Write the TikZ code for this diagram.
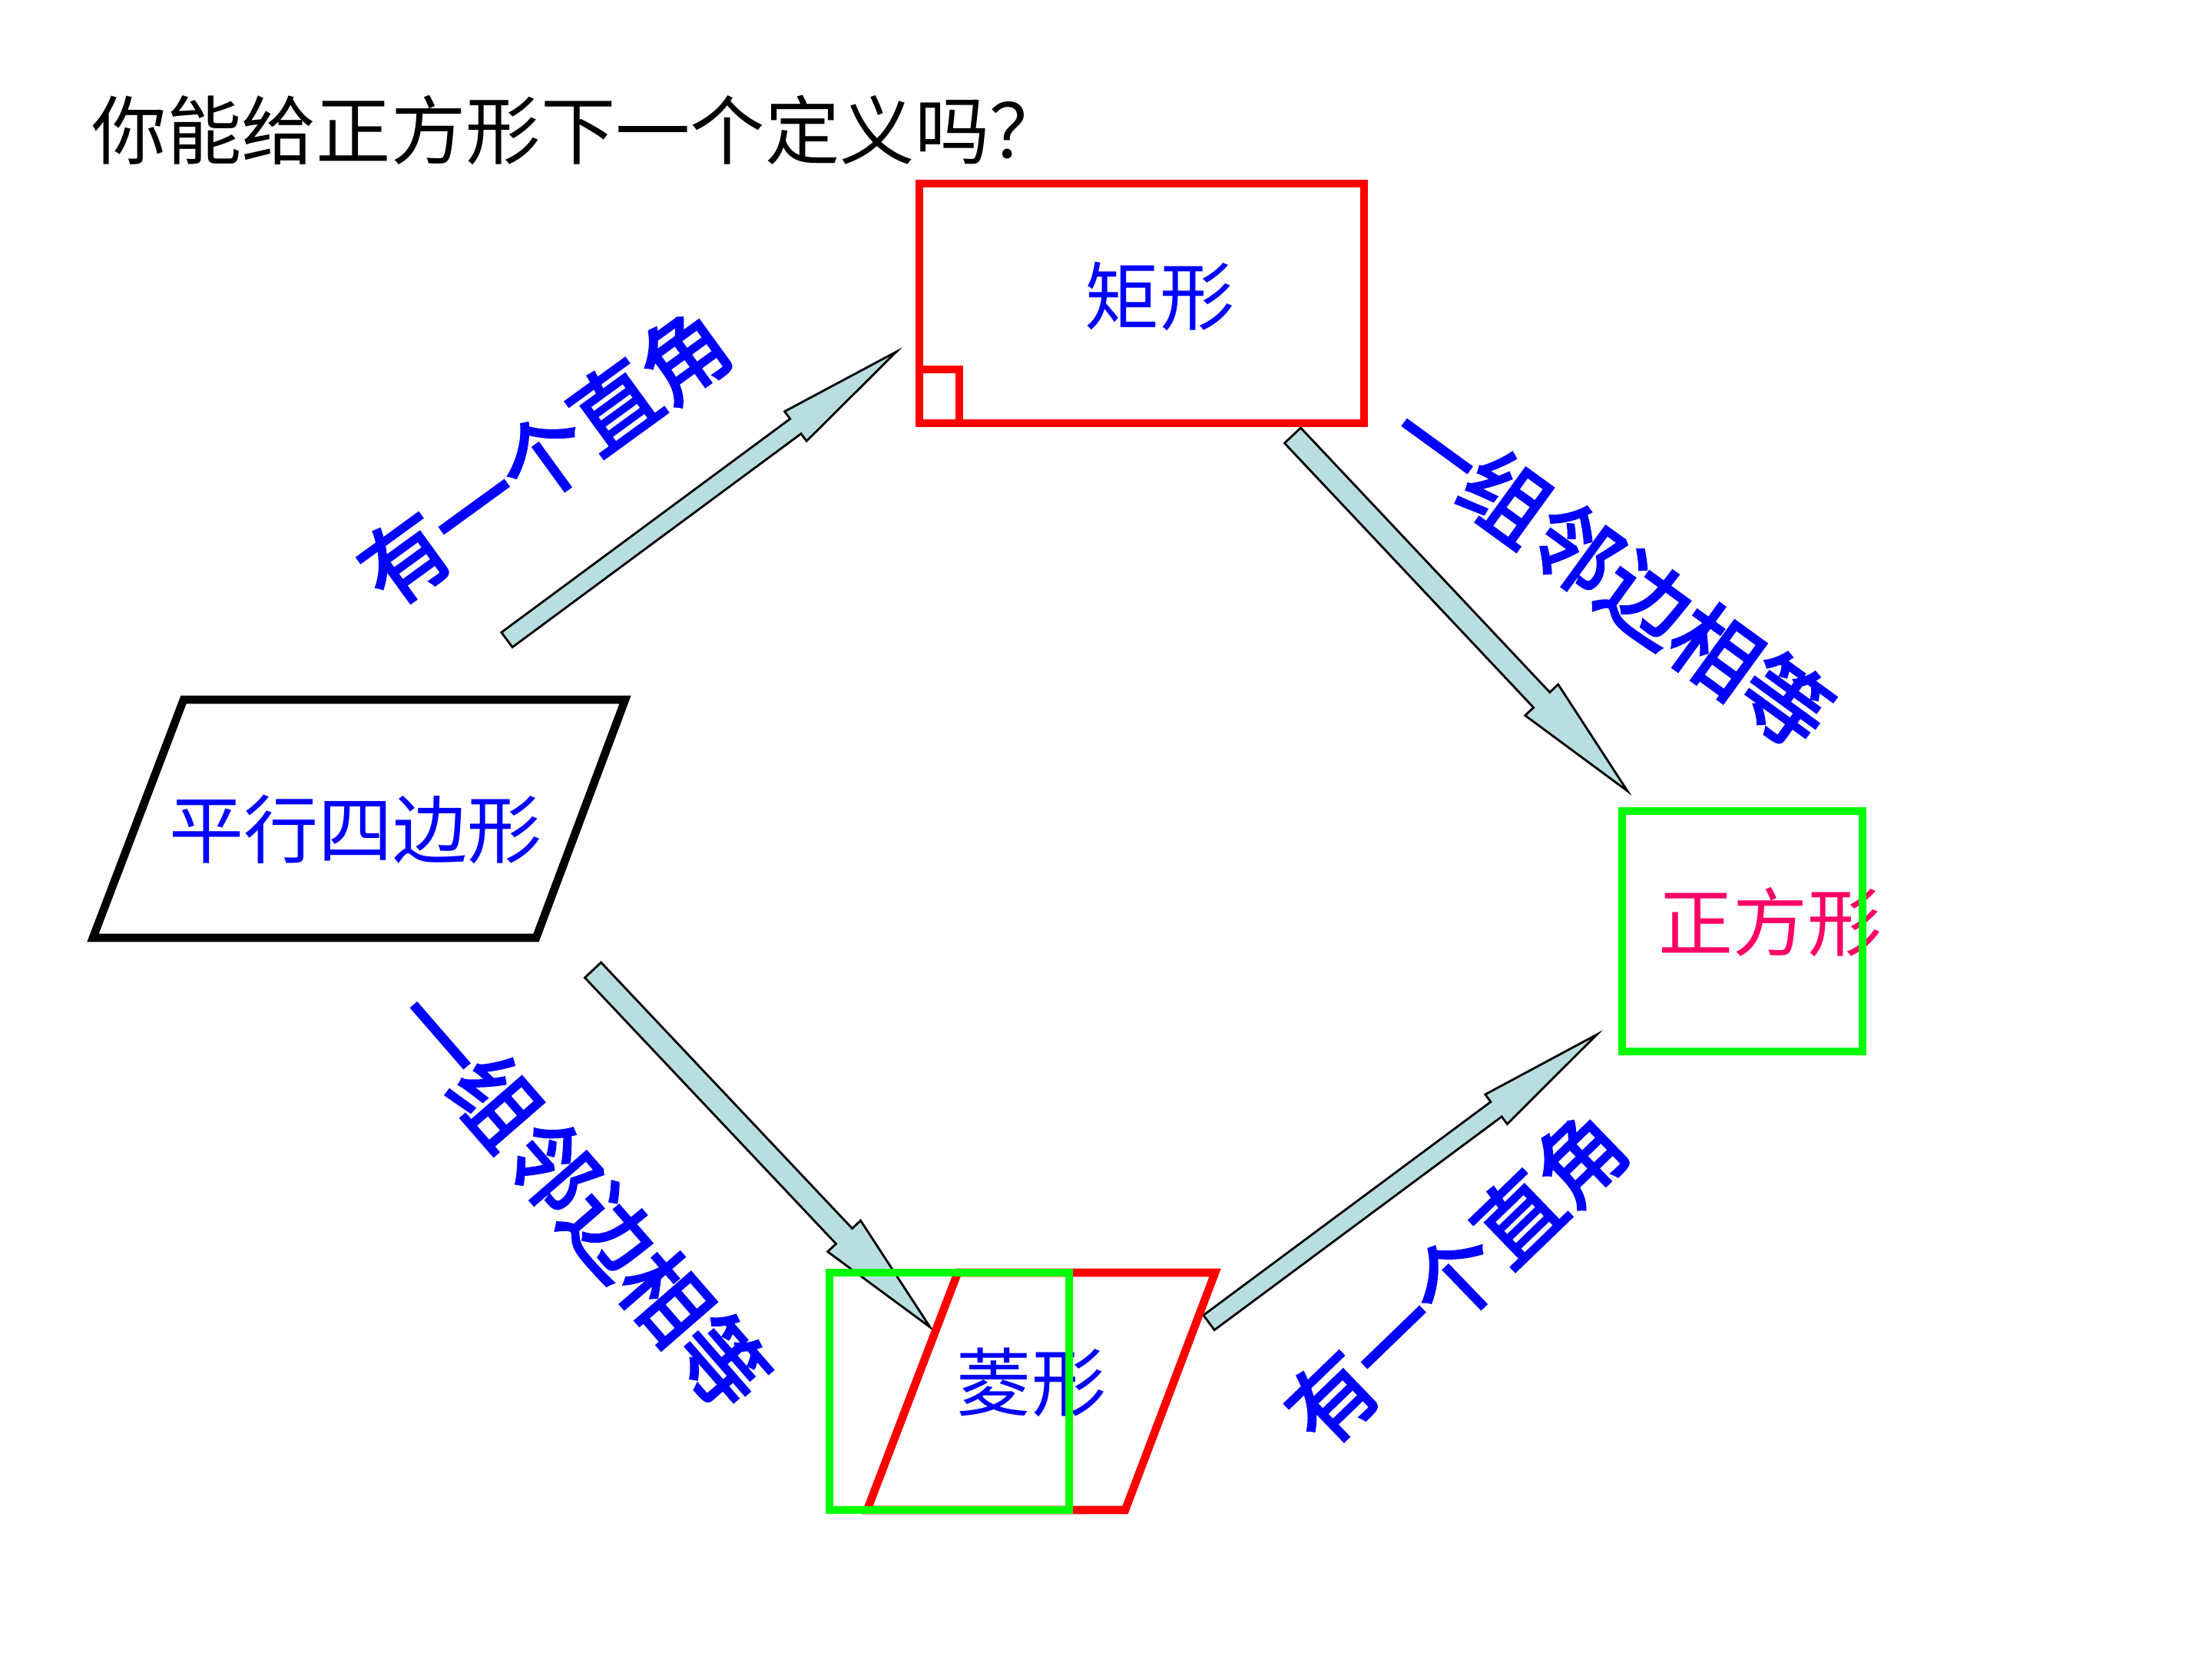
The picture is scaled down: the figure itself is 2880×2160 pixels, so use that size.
\documentclass[tikz,border=0pt]{standalone}
\usepackage{fontspec}
\setmainfont{Noto Sans CJK SC}
\newfontfamily\labfont[FakeBold=3]{Noto Sans CJK SC}
\usetikzlibrary{calc}
\definecolor{arrowfill}{RGB}{185,222,226}
\definecolor{sqpink}{RGB}{255,0,102}

\begin{document}
\begin{tikzpicture}[x=0.01cm,y=-0.01cm,
    edge/.style={line width=3pt,line join=miter},
    fat/.style={draw=black,fill=arrowfill,line width=0.8pt,line join=miter},
    txt/.style={inner sep=0pt,text=blue,font=\fontsize{27.6}{30}\selectfont},
    lab/.style={inner sep=0pt,text=blue,font=\labfont\fontsize{32}{36}\selectfont}]
  \useasboundingbox (0,0) rectangle (2880,2160);
  \node[anchor=west,inner sep=0pt,font=\fontsize{27.7}{32}\selectfont]
    (title) at (119,169) {你能给正方形下一个定义吗？};
  % ends of the four block arrows
  \coordinate (a1s) at (660,833);   \coordinate (a1e) at (1167,458);
  \coordinate (b1s) at (1683,567);  \coordinate (b1e) at (2119,1030);
  \coordinate (c1s) at (772,1263);  \coordinate (c1e) at (1211,1728);
  \coordinate (d1s) at (1574,1722); \coordinate (d1e) at (2079,1347);
  \foreach \s/\e/\w/\h in {a1s/a1e/0.12cm/0.24cm,b1s/b1e/0.145cm/0.295cm,
      c1s/c1e/0.145cm/0.295cm,d1s/d1e/0.12cm/0.24cm}{
    \draw[fat] ($(\s)!\w!90:(\e)$) -- ($(\e)!1.63cm!(\s)!\w!-90:(\s)$)
      -- ($(\e)!1.63cm!(\s)!\h!-90:(\s)$) -- (\e)
      -- ($(\e)!1.63cm!(\s)!\h!90:(\s)$) -- ($(\e)!1.63cm!(\s)!\w!90:(\s)$)
      -- ($(\s)!\w!-90:(\e)$) -- cycle;
  }
  \foreach \nm/\px/\py/\ang/\tx in {l1/709/595/36/有一个直角,
      l2/2098/747/-36/一组邻边相等,l3/757/1561/-49/一组邻边相等,
      l4/1896/1664/44/有一个直角}
    \node[lab,rotate=\ang] (\nm) at (\px,\py) {\tx};
  \node[txt] (pgram) at (463,1080) {平行四边形};
  \node[txt] (rect) at (1510,386) {矩形};
  \node[txt] (rhomb) at (1343,1800) {菱形};
  \node[txt,text=sqpink] (square) at (2305,1201) {正方形};
  % outlines
  \draw[edge,red] (1197,239) rectangle (1776,551);
  \draw[edge,red] (1197,481) rectangle (1249,551);
  \draw[edge] (239,911) -- (814,911) -- (698,1221) -- (121,1221) -- cycle;
  \draw[edge,red] (1247,1657) -- (1582,1657) -- (1465,1966) -- (1129,1966) -- cycle;
  \draw[edge,green] (1080,1657) rectangle (1392,1966);
  \draw[edge,green] (2112,1056) rectangle (2425,1369);
\end{tikzpicture}
\end{document}
